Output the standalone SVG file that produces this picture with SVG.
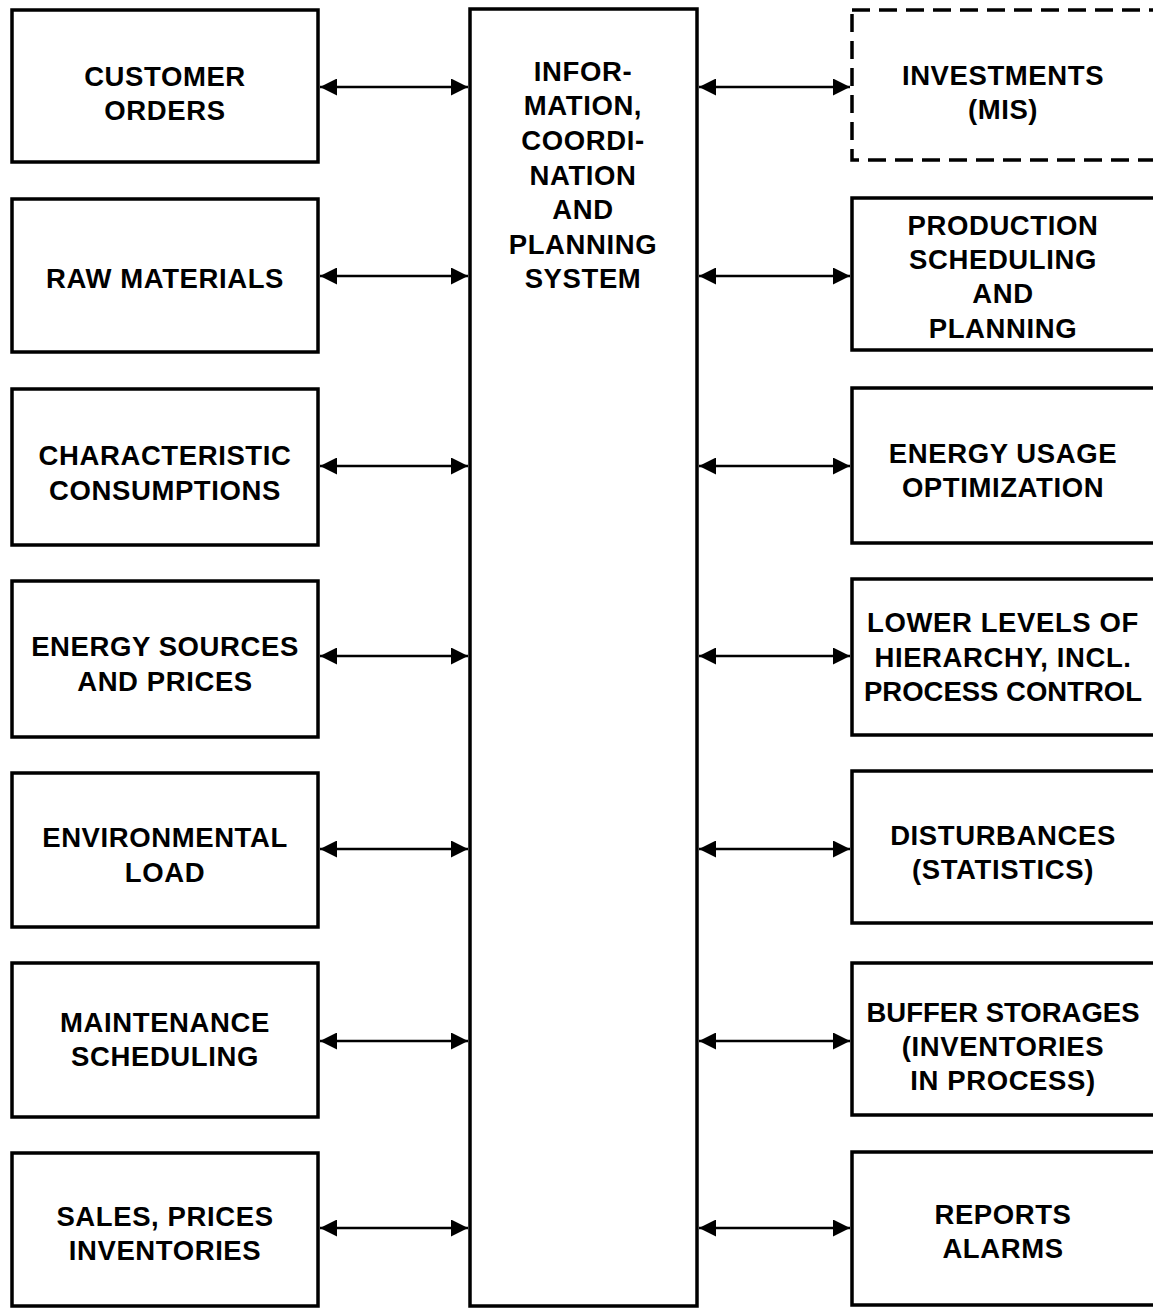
<svg xmlns="http://www.w3.org/2000/svg" width="1153" height="1308" viewBox="0 0 1153 1308">
<defs>
<style>
.box{fill:#fff;stroke:#000;stroke-width:3.5}
.dash{fill:#fff;stroke:#000;stroke-width:3.5;stroke-dasharray:18 9}
.lbl{font-family:"Liberation Sans",Arial,sans-serif;font-weight:bold;font-size:27.5px;letter-spacing:0.6px;text-anchor:middle;fill:#000}
.con{stroke:#000;stroke-width:2.5;fill:none;marker-start:url(#ah);marker-end:url(#ah)}
</style>
<marker id="ah" viewBox="0 0 17 17" refX="17" refY="8.5" markerWidth="17" markerHeight="17" markerUnits="userSpaceOnUse" orient="auto-start-reverse">
<path d="M0,0 L17,8.5 L0,17 Z" fill="#000"/>
</marker>
</defs>
<rect width="1153" height="1308" fill="#fff"/>

<g id="center">
<rect class="box" x="470" y="9" width="227" height="1297"/>
<text class="lbl" x="583"><tspan x="583" y="81">INFOR-</tspan><tspan x="583" y="115">MATION,</tspan><tspan x="583" y="150">COORDI-</tspan><tspan x="583" y="185">NATION</tspan><tspan x="583" y="219">AND</tspan><tspan x="583" y="254">PLANNING</tspan><tspan x="583" y="288">SYSTEM</tspan></text>
</g>

<g id="customer-orders"><rect class="box" x="12" y="10" width="306" height="152"/><text class="lbl"><tspan x="165" y="86">CUSTOMER</tspan><tspan x="165" y="120">ORDERS</tspan></text></g>
<g id="raw-materials"><rect class="box" x="12" y="199" width="306" height="153"/><text class="lbl"><tspan x="165" y="288">RAW MATERIALS</tspan></text></g>
<g id="characteristic"><rect class="box" x="12" y="389" width="306" height="156"/><text class="lbl"><tspan x="165" y="465">CHARACTERISTIC</tspan><tspan x="165" y="500">CONSUMPTIONS</tspan></text></g>
<g id="energy-sources"><rect class="box" x="12" y="581" width="306" height="156"/><text class="lbl"><tspan x="165" y="656">ENERGY SOURCES</tspan><tspan x="165" y="691">AND PRICES</tspan></text></g>
<g id="environmental"><rect class="box" x="12" y="773" width="306" height="154"/><text class="lbl"><tspan x="165" y="847">ENVIRONMENTAL</tspan><tspan x="165" y="882">LOAD</tspan></text></g>
<g id="maintenance"><rect class="box" x="12" y="963" width="306" height="154"/><text class="lbl"><tspan x="165" y="1032">MAINTENANCE</tspan><tspan x="165" y="1066">SCHEDULING</tspan></text></g>
<g id="sales"><rect class="box" x="12" y="1153" width="306" height="153"/><text class="lbl"><tspan x="165" y="1226">SALES, PRICES</tspan><tspan x="165" y="1260">INVENTORIES</tspan></text></g>

<g id="investments"><rect class="dash" x="852" y="10" width="320" height="150"/><text class="lbl"><tspan x="1003" y="85">INVESTMENTS</tspan><tspan x="1003" y="119">(MIS)</tspan></text></g>
<g id="production"><rect class="box" x="852" y="198" width="320" height="152"/><text class="lbl"><tspan x="1003" y="235">PRODUCTION</tspan><tspan x="1003" y="269">SCHEDULING</tspan><tspan x="1003" y="303">AND</tspan><tspan x="1003" y="338">PLANNING</tspan></text></g>
<g id="energy-usage"><rect class="box" x="852" y="388" width="320" height="155"/><text class="lbl"><tspan x="1003" y="463">ENERGY USAGE</tspan><tspan x="1003" y="497">OPTIMIZATION</tspan></text></g>
<g id="lower-levels"><rect class="box" x="852" y="579" width="320" height="156"/><text class="lbl"><tspan x="1003" y="632">LOWER LEVELS OF</tspan><tspan x="1003" y="667">HIERARCHY, INCL.</tspan><tspan x="1003" y="701" letter-spacing="0">PROCESS CONTROL</tspan></text></g>
<g id="disturbances"><rect class="box" x="852" y="771" width="320" height="152"/><text class="lbl"><tspan x="1003" y="845">DISTURBANCES</tspan><tspan x="1003" y="879">(STATISTICS)</tspan></text></g>
<g id="buffer"><rect class="box" x="852" y="963" width="320" height="152"/><text class="lbl"><tspan x="1003" y="1022" letter-spacing="0">BUFFER STORAGES</tspan><tspan x="1003" y="1056">(INVENTORIES</tspan><tspan x="1003" y="1090">IN PROCESS)</tspan></text></g>
<g id="reports"><rect class="box" x="852" y="1152" width="320" height="153"/><text class="lbl"><tspan x="1003" y="1224">REPORTS</tspan><tspan x="1003" y="1258">ALARMS</tspan></text></g>

<g id="connectors">
<line class="con" x1="320" y1="87" x2="468" y2="87"/>
<line class="con" x1="320" y1="276" x2="468" y2="276"/>
<line class="con" x1="320" y1="466" x2="468" y2="466"/>
<line class="con" x1="320" y1="656" x2="468" y2="656"/>
<line class="con" x1="320" y1="849" x2="468" y2="849"/>
<line class="con" x1="320" y1="1041" x2="468" y2="1041"/>
<line class="con" x1="320" y1="1228" x2="468" y2="1228"/>
<line class="con" x1="699" y1="87" x2="850" y2="87"/>
<line class="con" x1="699" y1="276" x2="850" y2="276"/>
<line class="con" x1="699" y1="466" x2="850" y2="466"/>
<line class="con" x1="699" y1="656" x2="850" y2="656"/>
<line class="con" x1="699" y1="849" x2="850" y2="849"/>
<line class="con" x1="699" y1="1041" x2="850" y2="1041"/>
<line class="con" x1="699" y1="1228" x2="850" y2="1228"/>
</g>
</svg>
